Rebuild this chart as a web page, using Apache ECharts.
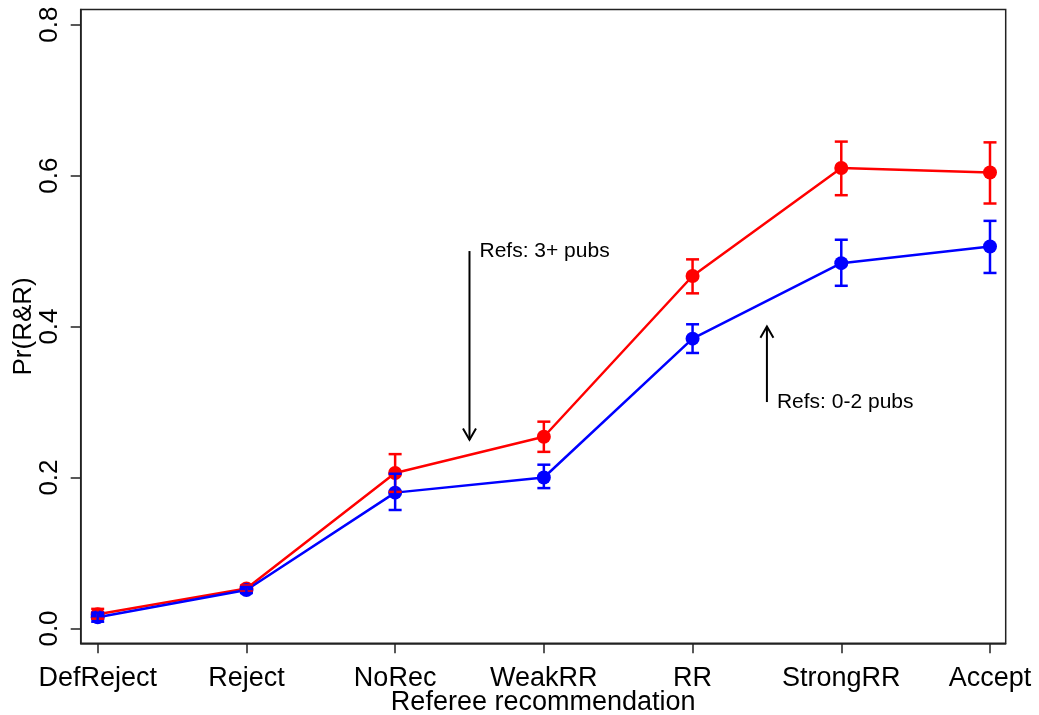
<!DOCTYPE html>
<html>
<head>
<meta charset="utf-8">
<script src="https://cdn.jsdelivr.net/npm/echarts@6/dist/echarts.min.js"></script>
<style>
  html, body { margin: 0; padding: 0; background: #fff; }
  #chart { width: 1039px; height: 715px; }
</style>
</head>
<body>
<div id="chart"></div>
<script>
// Referee recommendation categories (x positions 1..7)
const categories = ['DefReject', 'Reject', 'NoRec', 'WeakRR', 'RR', 'StrongRR', 'Accept'];

// Referees with 3+ publications
const refs3Mean = [0.019, 0.053, 0.206, 0.254, 0.467, 0.610, 0.604];
const refs3Low  = [0.013, 0.049, 0.181, 0.234, 0.444, 0.574, 0.563];
const refs3High = [0.026, 0.057, 0.231, 0.274, 0.489, 0.645, 0.644];

// Referees with 0-2 publications
const refs02Mean = [0.015, 0.051, 0.180, 0.200, 0.384, 0.484, 0.506];
const refs02Low  = [0.009, 0.047, 0.157, 0.186, 0.365, 0.454, 0.471];
const refs02High = [0.021, 0.055, 0.205, 0.217, 0.403, 0.515, 0.540];

// Y-axis tick values
const yTicks = [0, 0.2, 0.4, 0.6, 0.8];

// Arrow annotations (data units): label, x, arrow tail y, arrow head y
const noteLabels = ['Refs: 3+ pubs', 'Refs: 0-2 pubs'];
const noteX      = [3.5, 5.5];
const noteFrom   = [0.5, 0.3];
const noteTo     = [0.25, 0.4];

const FONT = '"Liberation Sans", Arial, Helvetica, sans-serif';
const xTicks = categories.map((_, i) => i + 1);

function pairs(means) { return means.map((v, i) => [i + 1, v]); }
function bars(low, high) { return low.map((v, i) => [i + 1, v, high[i]]); }

function errorBarRender(color) {
  return function (params, api) {
    const x = api.value(0);
    const lo = api.coord([x, api.value(1)]);
    const hi = api.coord([x, api.value(2)]);
    const hw = 6.5;
    const style = { stroke: color, lineWidth: 2.5, fill: null };
    return {
      type: 'group',
      children: [
        { type: 'line', shape: { x1: lo[0], y1: lo[1], x2: hi[0], y2: hi[1] }, style },
        { type: 'line', shape: { x1: lo[0] - hw, y1: lo[1], x2: lo[0] + hw, y2: lo[1] }, style },
        { type: 'line', shape: { x1: hi[0] - hw, y1: hi[1], x2: hi[0] + hw, y2: hi[1] }, style }
      ]
    };
  };
}

function arrowRender(params, api) {
  const i = params.dataIndex;
  const p0 = api.coord([api.value(0), api.value(1)]);
  const p1 = api.coord([api.value(0), api.value(2)]);
  const dir = p1[1] > p0[1] ? 1 : -1;
  const L = 13, a = Math.PI / 6;
  const dy = L * Math.cos(a) * dir, dx = L * Math.sin(a);
  const style = { stroke: '#000', lineWidth: 2, fill: null };
  return {
    type: 'group',
    children: [
      { type: 'line', shape: { x1: p0[0], y1: p0[1], x2: p1[0], y2: p1[1] }, style },
      { type: 'polyline', shape: { points: [[p1[0] - dx, p1[1] - dy], [p1[0], p1[1]], [p1[0] + dx, p1[1] - dy]] }, style },
      { type: 'text', x: p0[0] + 10, y: p0[1],
        style: { text: noteLabels[i], fill: '#000', font: '21px ' + FONT, align: 'left', verticalAlign: 'middle' } }
    ]
  };
}

const chart = echarts.init(document.getElementById('chart'), null, { renderer: 'canvas' });

chart.setOption({
  animation: false,
  backgroundColor: '#fff',
  textStyle: { fontFamily: FONT },
  grid: {
    left: 80.7, right: 33.3, top: 9.5, bottom: 71.7,
    outerBoundsMode: 'none', containLabel: false,
    show: true, borderColor: '#222', borderWidth: 1.5, backgroundColor: 'transparent'
  },
  xAxis: {
    type: 'value',
    min: 0.8857, max: 7.1056,
    name: 'Referee recommendation',
    nameLocation: 'middle',
    nameGap: 46,
    nameMoveOverlap: false,
    nameTextStyle: { fontSize: 27, color: '#000', fontFamily: FONT },
    axisLine: { show: true, onZero: false, lineStyle: { color: '#222', width: 1.5 } },
    axisTick: { show: true, customValues: xTicks, length: 10, lineStyle: { color: '#222', width: 1.5 } },
    axisLabel: {
      customValues: xTicks,
      margin: 22,
      fontSize: 27, color: '#000', fontFamily: FONT,
      formatter: v => categories[Math.round(v) - 1] || ''
    },
    splitLine: { show: false }
  },
  yAxis: {
    type: 'value',
    min: -0.0196, max: 0.82,
    name: 'Pr(R&R)',
    nameLocation: 'middle',
    nameRotate: 90,
    nameGap: 44,
    nameMoveOverlap: false,
    nameTextStyle: { fontSize: 26, color: '#000', fontFamily: FONT },
    axisLine: { show: true, onZero: false, lineStyle: { color: '#222', width: 1.5 } },
    axisTick: { show: true, customValues: yTicks, length: 10, lineStyle: { color: '#222', width: 1.5 } },
    axisLabel: {
      customValues: yTicks,
      rotate: 90,
      margin: 18,
      fontSize: 26, color: '#000', fontFamily: FONT,
      formatter: v => v.toFixed(1)
    },
    splitLine: { show: false }
  },
  series: [
    {
      name: 'Refs: 3+ pubs', type: 'line', data: pairs(refs3Mean),
      color: '#ff0000', symbol: 'circle', symbolSize: 14, showSymbol: true,
      lineStyle: { width: 2.5, color: '#ff0000' }, itemStyle: { color: '#ff0000' }, z: 2
    },
    {
      name: 'Refs: 0-2 pubs', type: 'line', data: pairs(refs02Mean),
      color: '#0000ff', symbol: 'circle', symbolSize: 14, showSymbol: true,
      lineStyle: { width: 2.5, color: '#0000ff' }, itemStyle: { color: '#0000ff' }, z: 2
    },
    {
      type: 'custom', data: bars(refs3Low, refs3High),
      renderItem: errorBarRender('#ff0000'), z: 3, silent: true
    },
    {
      type: 'custom', data: bars(refs02Low, refs02High),
      renderItem: errorBarRender('#0000ff'), z: 3, silent: true
    },
    {
      type: 'custom', data: noteX.map((x, i) => [x, noteFrom[i], noteTo[i]]),
      renderItem: arrowRender, z: 4, silent: true, clip: false
    }
  ]
});
</script>
</body>
</html>
